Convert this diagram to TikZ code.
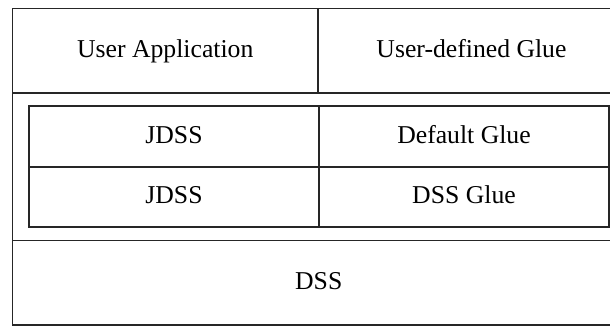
\documentclass[tikz,border=0pt]{standalone}
\usepackage{fontspec}
\setmainfont{Liberation Serif}
\begin{document}
\begin{tikzpicture}[x=1pt,y=-1pt,
  cell/.style={draw=black!85, line width=1.2pt, inner sep=0pt, outer sep=0pt,
    font=\fontsize{25.7}{30}\selectfont, text=black,
    text height=18pt, text depth=4.2pt},
]
\useasboundingbox (0,0) rectangle (610,326);
\clip (0,0) rectangle (610,326);
% top row
\node[cell, minimum width=305.5pt, minimum height=84.5pt] (ua) at (165.25,50.75) {User Application};
\node[cell, minimum width=307pt, minimum height=84.5pt] (ug) at (471.5,50.75) {User-defined Glue};
% middle band
\node[cell, minimum width=612.5pt, minimum height=147.7pt] (mid) at (318.75,166.85) {};
\node[cell, minimum width=290pt, minimum height=61pt] (j1) at (174,136.5) {JDSS};
\node[cell, minimum width=290pt, minimum height=61pt] (g1) at (464,136.5) {Default Glue};
\node[cell, minimum width=290pt, minimum height=60pt] (j2) at (174,197) {JDSS};
\node[cell, minimum width=290pt, minimum height=60pt] (g2) at (464,197) {DSS Glue};
% bottom
\node[cell, minimum width=612.5pt, minimum height=84.3pt] (dss) at (318.75,282.85) {DSS};
\end{tikzpicture}
\end{document}
